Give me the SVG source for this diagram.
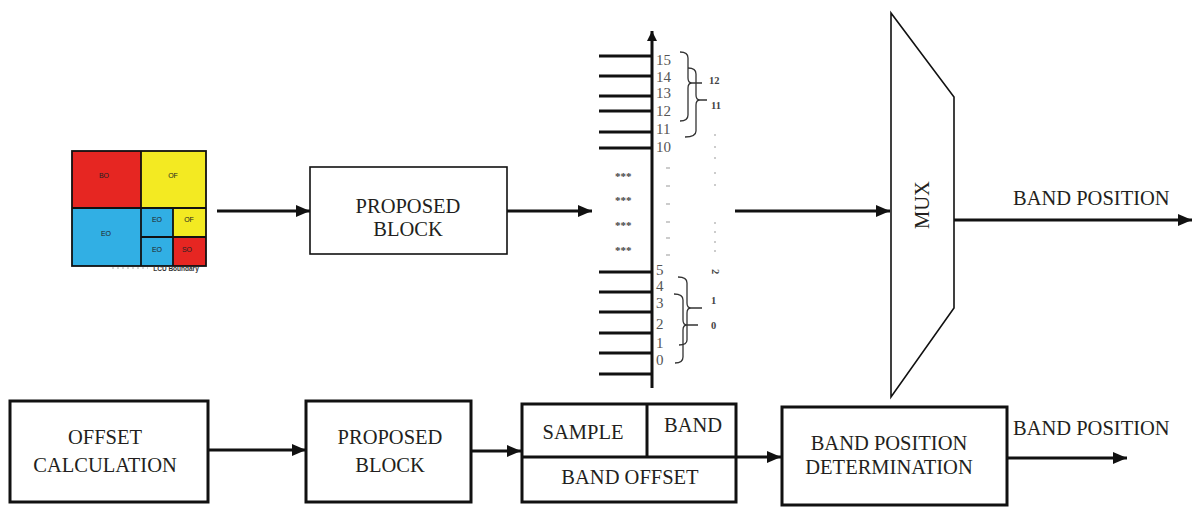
<svg xmlns="http://www.w3.org/2000/svg" width="1194" height="507" viewBox="0 0 1194 507">
<defs>
<marker id="ah" viewBox="0 0 14 12" refX="14" refY="6" markerWidth="14" markerHeight="12" markerUnits="userSpaceOnUse" orient="auto">
<path d="M0,0 L14,6 L0,12 z" fill="#111"/>
</marker>
<marker id="ahs" viewBox="0 0 10 10" refX="10" refY="5" markerWidth="10" markerHeight="10" markerUnits="userSpaceOnUse" orient="auto">
<path d="M0,0 L10,5 L0,10 z" fill="#111"/>
</marker>
</defs>
<style>
.t{font-family:"Liberation Serif","Times New Roman",serif;font-size:20.5px;fill:#231f20;text-anchor:middle}
.tl{font-family:"Liberation Serif","Times New Roman",serif;font-size:20.5px;fill:#231f20}
.num{font-family:"Liberation Serif","Times New Roman",serif;font-size:15px;fill:#555}
.sm{font-family:"Liberation Serif","Times New Roman",serif;font-size:10.5px;font-weight:bold;fill:#444}
.q{font-family:"Liberation Sans",Arial,sans-serif;font-size:7px;fill:#222;text-anchor:middle}
.box{fill:#fff;stroke:#111;stroke-width:1.6}
.bbox{fill:#fff;stroke:#111;stroke-width:3}
.conn{fill:none;stroke:#111;stroke-width:3.2}
.br{fill:none;stroke:#333;stroke-width:1.3}
.tick{stroke:#111;stroke-width:3}
.g{stroke:#999;stroke-width:1}
</style>
<rect width="1194" height="507" fill="#fff"/>

<g id="quadtree">
<rect x="72" y="151" width="69" height="57" fill="#e62622"/>
<rect x="141" y="151" width="65" height="57" fill="#f3ea22"/>
<rect x="72" y="208" width="69" height="58" fill="#31afe4"/>
<rect x="141" y="208" width="32" height="29" fill="#31afe4"/>
<rect x="173" y="208" width="33" height="29" fill="#f3ea22"/>
<rect x="141" y="237" width="32" height="29" fill="#31afe4"/>
<rect x="173" y="237" width="33" height="29" fill="#e62622"/>
<g fill="none" stroke="#111" stroke-width="1.8">
<rect x="72" y="151" width="134" height="115"/>
<line x1="141" y1="151" x2="141" y2="266"/>
<line x1="72" y1="208" x2="206" y2="208"/>
<line x1="173" y1="208" x2="173" y2="266"/>
<line x1="141" y1="237" x2="206" y2="237"/>
</g>
<text class="q" x="104" y="178">BO</text>
<text class="q" x="173" y="178">OF</text>
<text class="q" x="106" y="236">EO</text>
<text class="q" x="157" y="222">EO</text>
<text class="q" x="189" y="222">OF</text>
<text class="q" x="157" y="252">EO</text>
<text class="q" x="187" y="252">SO</text>
<line x1="112" y1="268" x2="148" y2="268" stroke="#aaa" stroke-width="1" stroke-dasharray="2,3"/>
<text x="176" y="270.5" font-family="Liberation Sans, Arial, sans-serif" font-size="6.5" font-weight="bold" fill="#333" text-anchor="middle">LCU Boundary</text>
</g>

<g id="proposed-top">
<rect class="box" x="310" y="167" width="197" height="87"/>
<text class="t" x="408" y="213">PROPOSED</text>
<text class="t" x="408" y="236">BLOCK</text>
</g>

<g id="band-ladder">
<line x1="652" y1="388" x2="652" y2="31" stroke="#111" stroke-width="3" marker-end="url(#ahs)"/>
<line class="tick" x1="599" y1="56" x2="652" y2="56"/>
<line class="tick" x1="599" y1="76" x2="652" y2="76"/>
<line class="tick" x1="599" y1="96" x2="652" y2="96"/>
<line class="tick" x1="599" y1="111" x2="652" y2="111"/>
<line class="tick" x1="599" y1="132" x2="652" y2="132"/>
<line class="tick" x1="599" y1="148" x2="652" y2="148"/>
<line class="tick" x1="599" y1="272" x2="652" y2="272"/>
<line class="tick" x1="599" y1="292" x2="652" y2="292"/>
<line class="tick" x1="599" y1="312" x2="652" y2="312"/>
<line class="tick" x1="599" y1="333" x2="652" y2="333"/>
<line class="tick" x1="599" y1="353" x2="652" y2="353"/>
<line class="tick" x1="599" y1="374" x2="652" y2="374"/>
<text class="num" x="656" y="65">15</text>
<text class="num" x="656" y="82">14</text>
<text class="num" x="656" y="98">13</text>
<text class="num" x="656" y="116">12</text>
<text class="num" x="656" y="134">11</text>
<text class="num" x="656" y="152">10</text>
<text class="num" x="656" y="275">5</text>
<text class="num" x="656" y="291">4</text>
<text class="num" x="656" y="308">3</text>
<text class="num" x="656" y="329">2</text>
<text class="num" x="656" y="348">1</text>
<text class="num" x="656" y="365">0</text>
<g font-family="Liberation Serif, Times New Roman, serif" font-size="11" font-weight="bold" fill="#444">
<text x="615" y="180">***</text>
<text x="615" y="204">***</text>
<text x="615" y="229">***</text>
<text x="615" y="254">***</text>
</g>
<g class="g">
<line x1="666" y1="168" x2="670" y2="168"/>
<line x1="666" y1="186" x2="670" y2="186"/>
<line x1="666" y1="204" x2="670" y2="204"/>
<line x1="666" y1="222" x2="670" y2="222"/>
<line x1="666" y1="238" x2="670" y2="238"/>
<line x1="666" y1="255" x2="670" y2="255"/>
<line x1="715" y1="134" x2="715" y2="136"/>
<line x1="715" y1="146" x2="715" y2="148"/>
<line x1="715" y1="157" x2="715" y2="159"/>
<line x1="715" y1="172" x2="715" y2="174"/>
<line x1="715" y1="184" x2="715" y2="186"/>
<line x1="715" y1="222" x2="715" y2="224"/>
<line x1="715" y1="231" x2="715" y2="233"/>
<line x1="715" y1="241" x2="715" y2="243"/>
<line x1="715" y1="250" x2="715" y2="252"/>
</g>
<path class="br" d="M680,52 Q688,52 688,58 L688,78 Q688,83 692,83 Q688,83 688,88 L688,115 Q688,121 680,121 M692,83 L702,83"/>
<path class="br" d="M688,68 Q696,68 696,74 L696,95 Q696,100 700,100 Q696,100 696,105 L696,131 Q696,137 685,137 M700,100 L707,100"/>
<path class="br" d="M678,277 Q687,277 687,283 L687,303 Q687,308 691,308 Q687,308 687,313 L687,340 Q687,345 679,345 M691,308 L702,308"/>
<path class="br" d="M674,294 Q683,294 683,300 L683,320 Q683,325 687,325 Q683,325 683,330 L683,357 Q683,363 675,363 M687,325 L698,325"/>
<text class="sm" x="709" y="84">12</text>
<text class="sm" x="711" y="109">11</text>
<text class="sm" x="711" y="304">1</text>
<text class="sm" x="711" y="329">0</text>
<text class="sm" x="0" y="0" font-size="9" transform="translate(712,269) rotate(90)">2</text>
</g>

<g id="mux">
<polygon points="891,13 954,97 954,308 891,397" fill="#fff" stroke="#111" stroke-width="1.6"/>
<text class="t" x="0" y="0" transform="translate(929,205) rotate(-90)">MUX</text>
</g>
<text id="label-band-position-top" class="tl" x="1013" y="205">BAND POSITION</text>

<g id="offset-calc">
<rect class="bbox" x="10" y="401" width="198" height="101"/>
<text class="t" x="105" y="444">OFFSET</text>
<text class="t" x="105" y="472">CALCULATION</text>
</g>
<g id="proposed-bottom">
<rect class="bbox" x="306" y="401" width="165" height="101"/>
<text class="t" x="390" y="444">PROPOSED</text>
<text class="t" x="390" y="472">BLOCK</text>
</g>
<g id="band-offset">
<rect class="bbox" x="522" y="404" width="214" height="98"/>
<line x1="522" y1="457" x2="736" y2="457" stroke="#111" stroke-width="3"/>
<line x1="647" y1="404" x2="647" y2="457" stroke="#111" stroke-width="3"/>
<text class="t" x="583" y="439">SAMPLE</text>
<text class="t" x="693" y="432">BAND</text>
<text class="t" x="630" y="484">BAND OFFSET</text>
</g>
<g id="band-position-det">
<rect class="bbox" x="782" y="407" width="225" height="98"/>
<text class="t" x="889" y="450">BAND POSITION</text>
<text class="t" x="889" y="474">DETERMINATION</text>
</g>
<text id="label-band-position-bottom" class="tl" x="1013" y="435">BAND POSITION</text>

<g id="connectors">
<line class="conn" x1="217" y1="211" x2="310" y2="211" marker-end="url(#ah)"/>
<line class="conn" x1="507" y1="211" x2="592" y2="211" marker-end="url(#ah)"/>
<line class="conn" x1="735" y1="211" x2="890" y2="211" marker-end="url(#ah)"/>
<line class="conn" x1="954" y1="220" x2="1192" y2="220" marker-end="url(#ah)"/>
<line class="conn" x1="208" y1="450" x2="306" y2="450" marker-end="url(#ah)"/>
<line class="conn" x1="471" y1="451" x2="521" y2="451" marker-end="url(#ah)"/>
<line class="conn" x1="736" y1="457" x2="781" y2="457" marker-end="url(#ah)"/>
<line class="conn" x1="1007" y1="458" x2="1127" y2="458" marker-end="url(#ah)"/>
</g>
</svg>
